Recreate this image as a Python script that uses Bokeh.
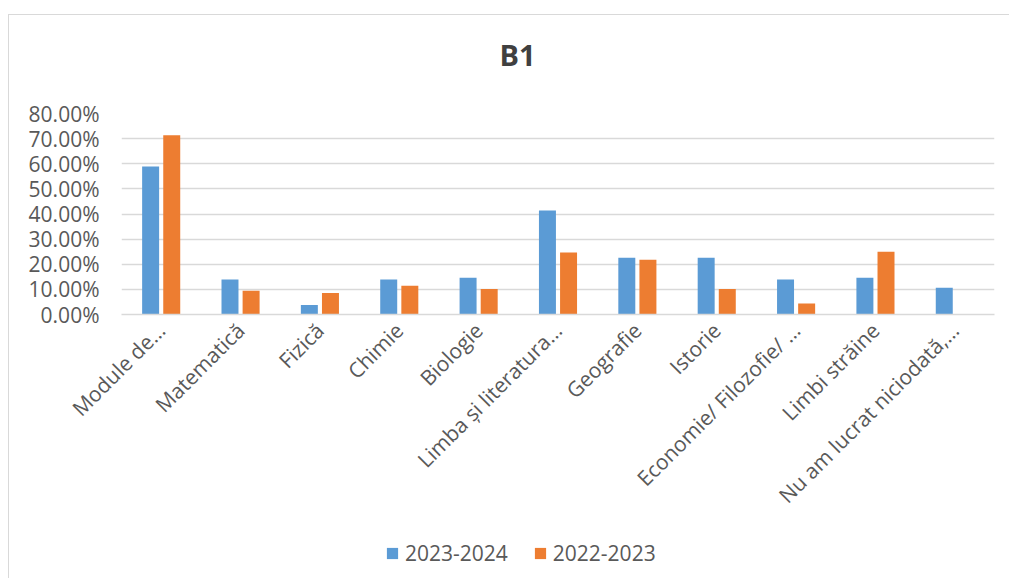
import math
from bokeh.plotting import figure
from bokeh.layouts import column
from bokeh.models import (ColumnDataSource, FactorRange, Range1d, FixedTicker,
                          NumeralTickFormatter, Legend, LegendItem, Label)
from bokeh.transform import dodge
from bokeh.embed import file_html
from bokeh.resources import INLINE

categories = ["Module de…", "Matematică", "Fizică", "Chimie", "Biologie",
              "Limba și literatura…", "Geografie", "Istorie",
              "Economie/ Filozofie/ …", "Limbi străine", "Nu am lucrat niciodată,…"]
series_2023_2024 = [0.589, 0.139, 0.038, 0.139, 0.146, 0.414, 0.226, 0.226, 0.139, 0.146, 0.106]
series_2022_2023 = [0.713, 0.095, 0.086, 0.114, 0.101, 0.247, 0.218, 0.101, 0.044, 0.250, 0.0]
y_ticks = [0.0, 0.1, 0.2, 0.3, 0.4, 0.5, 0.6, 0.7, 0.8]
series_names = ["2023-2024", "2022-2023"]
chart_title = "B1"

FONT = "Open Sans"
BLUE = "#5B9BD5"
ORANGE = "#ED7D31"
GRID = "#D9D9D9"
TEXT = "#595959"

src = ColumnDataSource(dict(cat=categories, a=series_2023_2024, b=series_2022_2023))

# ---- title strip ----
tl = figure(width=1000, height=60, x_range=Range1d(0, 1), y_range=Range1d(0, 1),
            output_backend="svg", toolbar_location=None, min_border=0,
            x_axis_location=None, y_axis_location=None)
tl.outline_line_color = None
tl.grid.visible = False
tl.background_fill_color = "white"
tl.border_fill_color = "white"
tl.add_layout(Label(x=396, y=21, x_units="screen", y_units="screen", text=chart_title,
                    text_align="center", text_baseline="alphabetic",
                    text_font=FONT, text_font_size="29px", text_font_style="bold",
                    text_color="#404040"))

# ---- main chart ----
p = figure(width=1000, height=455, x_range=FactorRange(*categories),
           y_range=Range1d(0, 0.8), output_backend="svg", toolbar_location=None,
           min_border_left=112, min_border_right=15, min_border_top=38,
           min_border_bottom=216)
p.outline_line_color = None
p.background_fill_color = "white"
p.border_fill_color = "white"

r1 = p.vbar(x=dodge("cat", -0.133, range=p.x_range), top="a", width=0.214,
            source=src, fill_color=BLUE, line_color=None)
r2 = p.vbar(x=dodge("cat", 0.133, range=p.x_range), top="b", width=0.214,
            source=src, fill_color=ORANGE, line_color=None)

p.xgrid.grid_line_color = None
p.ygrid.grid_line_color = GRID
p.ygrid.grid_line_width = 1.3
p.yaxis.ticker = FixedTicker(ticks=y_ticks)
p.yaxis.formatter = NumeralTickFormatter(format="0.00%")
p.yaxis.axis_line_color = None
p.yaxis.major_tick_line_color = None
p.yaxis.minor_tick_line_color = None
p.yaxis.major_tick_out = 0
p.yaxis.major_tick_in = 0
p.yaxis.major_label_standoff = 22
p.yaxis.major_label_text_font = FONT
p.yaxis.major_label_text_font_size = "21px"
p.yaxis.major_label_text_color = TEXT

p.xaxis.axis_line_color = GRID
p.xaxis.axis_line_width = 1.5
p.xaxis.major_tick_line_color = None
p.xaxis.minor_tick_line_color = None
p.xaxis.major_tick_out = 0
p.xaxis.major_tick_in = 0
p.xaxis.major_label_standoff = 12
p.xaxis.major_label_orientation = math.pi / 4
p.xaxis.major_label_text_font = FONT
p.xaxis.major_label_text_font_size = "21px"
p.xaxis.major_label_text_color = TEXT

# ---- legend strip (same series, drawn out of view; only the legend shows) ----
lg = figure(width=1000, height=48, x_range=p.x_range, y_range=Range1d(2, 3),
            output_backend="svg", toolbar_location=None,
            min_border=0, x_axis_location=None, y_axis_location=None)
lg.outline_line_color = None
lg.grid.visible = False
lg.background_fill_color = "white"
lg.border_fill_color = "white"
k1 = lg.vbar(x=dodge("cat", -0.133, range=p.x_range), top="a", width=0.214,
             source=src, fill_color=BLUE, line_color=None)
k2 = lg.vbar(x=dodge("cat", 0.133, range=p.x_range), top="b", width=0.214,
             source=src, fill_color=ORANGE, line_color=None)
legend = Legend(items=[LegendItem(label=series_names[0], renderers=[k1]),
                       LegendItem(label=series_names[1], renderers=[k2])],
                orientation="horizontal", location=(264, 11),
                padding=0, margin=0, spacing=25, glyph_width=14, glyph_height=14,
                label_standoff=6, border_line_color=None, background_fill_alpha=0,
                label_text_font=FONT, label_text_font_size="21px",
                label_text_color=TEXT)
lg.add_layout(legend, "center")

page = column(tl, p, lg, spacing=0)
page.styles = {"border-top": "1px solid #D9D9D9", "border-left": "1px solid #D9D9D9",
               "margin-top": "14px", "margin-left": "8px"}

open("out.html", "w").write(file_html(page, INLINE))
